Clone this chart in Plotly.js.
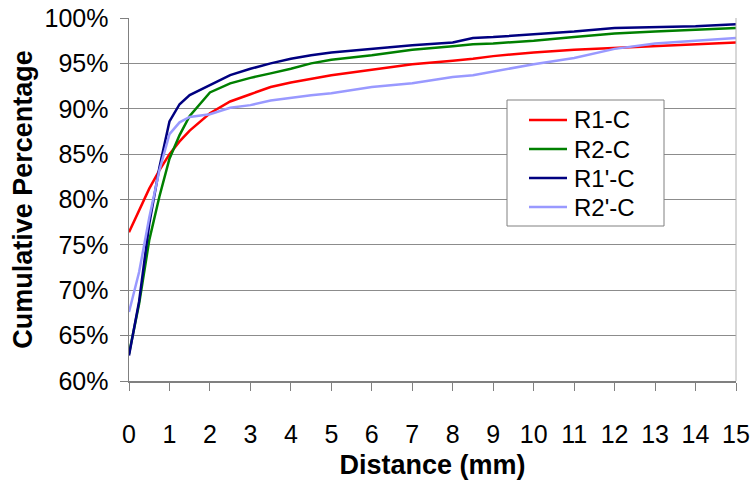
<!DOCTYPE html>
<html><head><meta charset="utf-8">
<script src="https://cdn.plot.ly/plotly-3.0.1.min.js"></script>
<style>html,body{margin:0;padding:0;background:#fff}#c{width:751px;height:485px}</style>
</head><body><div id="c"></div>
<script>
const distance = [0,0.25,0.5,0.75,1,1.25,1.5,2,2.5,3,3.5,4,4.5,5,6,7,8,8.5,9,10,11,12,13,14,15];
const r1c  = [76.4,78.9,81.2,83.2,85.0,86.4,87.6,89.5,90.8,91.6,92.4,92.9,93.3,93.7,94.3,94.9,95.3,95.5,95.8,96.2,96.5,96.7,96.9,97.1,97.3];
const r2c  = [63.0,68.5,75.5,80.3,84.5,87.1,89.2,91.8,92.8,93.4,93.9,94.4,95.0,95.4,95.9,96.5,96.9,97.1,97.2,97.5,97.9,98.3,98.5,98.7,98.9];
const r1pc = [62.8,68.8,77.3,83.5,88.6,90.5,91.5,92.6,93.7,94.4,95.0,95.5,95.9,96.2,96.6,97.0,97.3,97.8,97.9,98.2,98.5,98.9,99.0,99.1,99.3];
const r2pc = [67.6,72.0,78.0,83.2,87.2,88.5,89.1,89.4,90.1,90.4,90.9,91.2,91.5,91.7,92.4,92.8,93.5,93.7,94.1,94.9,95.6,96.6,97.2,97.5,97.8];
const names = ["R1-C","R2-C","R1'-C","R2'-C"];
const colors = ["#FF0000","#008000","#000080","#9999FF"];
const series = [r1c,r2c,r1pc,r2pc];
const yTicks = [60,65,70,75,80,85,90,95,100];
const yTickText = yTicks.map(v=>v+"%");
const xTicks = [0,1,2,3,4,5,6,7,8,9,10,11,12,13,14,15];

const data = series.map((s,i)=>({
  x: distance, y: s, type:"scatter", mode:"lines", name:names[i],
  line:{color:colors[i], width:2.5}
}));

// Legend drawn in paper coordinates (Excel-style compact legend box)
const M = {l:129, r:15, t:18, b:104}, W = 751, H = 485;
const pw = W - M.l - M.r, ph = H - M.t - M.b;
const px = v => (v - M.l) / pw;
const py = v => (H - M.b - v) / ph;
const legRows = [120, 149, 178, 207];
const shapes = [
  {type:"rect", xref:"paper", yref:"paper", x0:px(507), x1:px(664), y0:py(226), y1:py(100),
   fillcolor:"#fff", line:{color:"#808080", width:1}, layer:"above"},
  {type:"line", xref:"paper", yref:"paper", x0:1, x1:1, y0:0, y1:1,
   line:{color:"#b0b0b0", width:1}}
];
const annotations = [];
names.forEach((n,i)=>{
  shapes.push({type:"line", xref:"paper", yref:"paper", x0:px(529), x1:px(567),
    y0:py(legRows[i]), y1:py(legRows[i]), line:{color:colors[i], width:2.5}, layer:"above"});
  annotations.push({xref:"paper", yref:"paper", x:px(574), y:py(legRows[i]),
    xanchor:"left", yanchor:"middle", text:n, showarrow:false,
    borderpad:0, borderwidth:0,
    font:{size:24, color:"#000"}});
});

const layout = {
  width:W, height:H,
  margin:M,
  paper_bgcolor:"#fff", plot_bgcolor:"#fff",
  font:{family:"Liberation Sans, Arial, sans-serif", color:"#000", size:25},
  showlegend:false,
  xaxis:{range:[0,15], tickvals:xTicks, ticktext:xTicks.map(String),
    ticks:"outside", ticklen:8, tickcolor:"#808080", ticklabelstandoff:22,
    showline:true, linecolor:"#808080", linewidth:1.5, mirror:false,
    showgrid:false, zeroline:false, tickfont:{size:25}, automargin:false,
    title:{text:"<b>Distance (mm)</b>", font:{size:27}, standoff:8}},
  yaxis:{range:[60,100], tickvals:yTicks, ticktext:yTickText,
    ticks:"outside", ticklen:8, tickcolor:"#808080", ticklabelstandoff:6,
    showline:true, linecolor:"#808080", linewidth:1.5,
    showgrid:true, gridcolor:"#8c8c8c", gridwidth:1, zeroline:false,
    tickfont:{size:25}, automargin:false,
    title:{text:"<b>Cumulative Percentage</b>", font:{size:27}, standoff:4}},
  shapes:shapes,
  annotations:annotations
};
Plotly.newPlot("c", data, layout, {staticPlot:true});
</script></body></html>
